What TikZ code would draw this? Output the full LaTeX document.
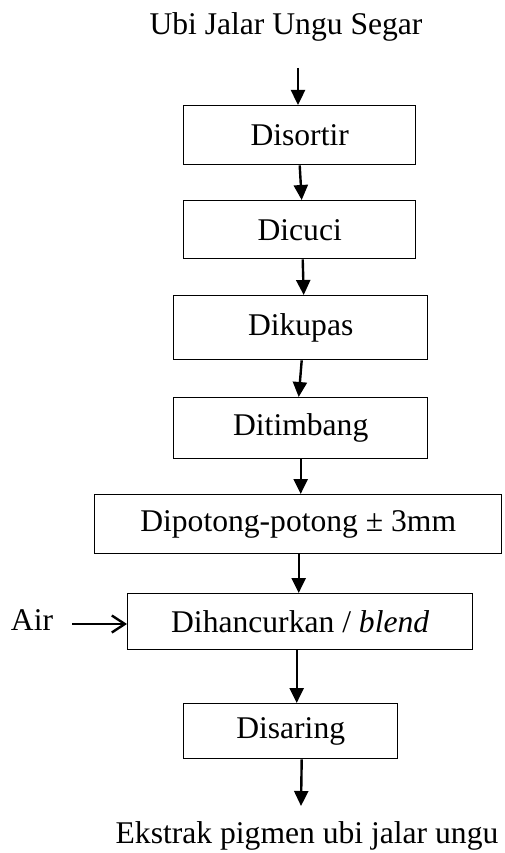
\documentclass[tikz,border=0pt]{standalone}
\usepackage{fontspec}
\setmainfont{Liberation Serif}
\usetikzlibrary{arrows.meta}
\begin{document}
\begin{tikzpicture}[x=1pt,y=-1pt,
  every node/.style={font=\fontsize{31.6}{38}\selectfont, inner sep=0pt},
  stepbox/.style={draw, line width=1.4pt, anchor=north west},
  flow/.style={line width=2.4pt, -{Triangle[length=15pt,width=14pt]}},
  side/.style={line width=2.4pt, -{Straight Barb[length=13pt,width=17pt,line width=2.4pt]}}]
\useasboundingbox (0,0) rectangle (504,853);
\node[anchor=base] (src) at (286,35) {Ubi Jalar Ungu Segar};
\coordinate (s0) at (298,68);
\node[stepbox, minimum width=232pt, minimum height=59pt] (b1) at (183,105) {};
\node at (b1.center) {Disortir};
\node[stepbox, minimum width=232pt, minimum height=58pt] (b2) at (183,200) {};
\node at (b2.center) {Dicuci};
\node[stepbox, minimum width=254pt, minimum height=64pt] (b3) at (173,295) {};
\node at (b3.center) {Dikupas};
\node[stepbox, minimum width=254pt, minimum height=61pt] (b4) at (173,397) {};
\node at (b4.center) {Ditimbang};
\node[stepbox, minimum width=407pt, minimum height=59pt] (b5) at (94,494) {};
\node at (b5.center) {Dipotong-potong {\fontspec{Liberation Serif}±} 3mm};
\node[stepbox, minimum width=345pt, minimum height=56pt] (b6) at (127,593) {};
\node at (b6.center) {Dihancurkan / \textit{blend}};
\node[stepbox, minimum width=214pt, minimum height=55pt] (b7) at (183,703) {};
\node at (b7.center) {Disaring};
\node[anchor=base] (out) at (307,843) {Ekstrak pigmen ubi jalar ungu};
\node[anchor=base] (air) at (32,630) {Air};
\coordinate (airs) at (72,624);
\coordinate (e7) at (301,806);

\draw[flow] (s0) -- (s0 |- b1.north);
\draw[flow] ([xshift=0pt]b1.south) -- ([xshift=2pt]b2.north);
\draw[flow] ([xshift=3pt]b2.south) -- ([xshift=3pt]b3.north);
\draw[flow] ([xshift=1pt]b3.south) -- ([xshift=-2pt]b4.north);
\draw[flow] ([xshift=0pt]b4.south) -- ([xshift=2.5pt]b5.north);
\draw[flow] ([xshift=0.5pt]b5.south) -- ([xshift=-1.5pt]b6.north);
\draw[flow] ([xshift=-3.5pt]b6.south) -- ([xshift=6pt]b7.north);
\draw[flow] ([xshift=11pt]b7.south) -- (e7);
\draw[side] (airs) -- (airs -| b6.west);
\end{tikzpicture}
\end{document}
